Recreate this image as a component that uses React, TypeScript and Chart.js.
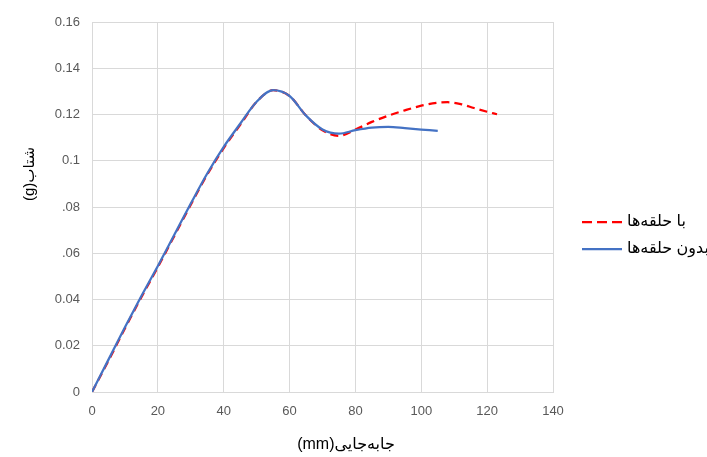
import React, { useEffect, useRef } from "react";
import { Chart, registerables } from "chart.js";

Chart.register(...registerables);

// ---- data ----
const seriesNames = ["با حلقه\u200cها", "بدون حلقه\u200cها"];
const withRingsX = [0, 5, 10, 15, 20, 25, 30, 35, 40, 45, 50, 55, 60, 65, 70, 75, 80, 85, 90, 95, 100, 105, 108, 112, 116, 120, 123];
const withRingsY = [0, 0.0135, 0.0275, 0.041, 0.054, 0.0675, 0.081, 0.094, 0.1055, 0.1155, 0.1255, 0.1305, 0.128, 0.1195, 0.1132, 0.1108, 0.1135, 0.1168, 0.1195, 0.1218, 0.1238, 0.1251, 0.1253, 0.1245, 0.1228, 0.1212, 0.1201];
const withoutRingsX = [0, 5, 10, 15, 20, 25, 30, 35, 40, 45, 50, 55, 60, 65, 70, 75, 80, 85, 90, 95, 100, 105];
const withoutRingsY = [0, 0.014, 0.028, 0.0415, 0.0545, 0.068, 0.0815, 0.0945, 0.106, 0.116, 0.1255, 0.1305, 0.128, 0.1195, 0.1135, 0.1117, 0.1132, 0.1143, 0.1146, 0.1141, 0.1135, 0.1129];
const xTickValues = [0, 20, 40, 60, 80, 100, 120, 140];
const yTickLabels = ["0", "0.02", "0.04", ".06", ".08", "0.1", "0.12", "0.14", "0.16"];
const xTitle = "(mm)جابه\u200cجایی";
const yTitle = "(g)شتاب";

const FONT = "'Liberation Sans', 'DejaVu Sans', sans-serif";

export default function App() {
  const ref = useRef<HTMLCanvasElement | null>(null);

  useEffect(() => {
    const canvas = ref.current;
    if (!canvas) return;

    const titlesAndLegend = {
      id: "titlesAndLegend",
      afterDraw(chart: any) {
        const ctx = chart.ctx as CanvasRenderingContext2D;
        ctx.save();
        (ctx as any).direction = "ltr";
        ctx.fillStyle = "#000000";
        ctx.textAlign = "center";
        ctx.textBaseline = "middle";
        ctx.font = `16px ${FONT}`;
        ctx.fillText(xTitle, 346, 445);
        ctx.save();
        ctx.font = `15px ${FONT}`;
        ctx.translate(30, 174);
        ctx.rotate(-Math.PI / 2);
        ctx.fillText(yTitle, 0, 0);
        ctx.restore();

        const items = [
          { name: seriesNames[0], color: "#ff0000", dash: [10, 5], y: 222 },
          { name: seriesNames[1], color: "#4472c4", dash: [], y: 249 },
        ];
        ctx.font = `16px ${FONT}`;
        ctx.textAlign = "left";
        for (const it of items) {
          ctx.save();
          ctx.strokeStyle = it.color;
          ctx.lineWidth = 2.25;
          ctx.setLineDash(it.dash);
          ctx.beginPath();
          ctx.moveTo(582, it.y);
          ctx.lineTo(622, it.y);
          ctx.stroke();
          ctx.restore();
          ctx.fillStyle = "#000000";
          ctx.fillText(it.name, 627, it.y);
        }
        ctx.restore();
      },
    };

    const chart = new Chart(canvas, {
      type: "line",
      data: {
        datasets: [
          {
            label: seriesNames[0],
            data: withRingsX.map((x, i) => ({ x, y: withRingsY[i] })),
            borderColor: "#ff0000",
            borderWidth: 2.25,
            borderDash: [8, 5],
            pointRadius: 0,
            cubicInterpolationMode: "monotone",
            fill: false,
            order: 2,
          },
          {
            label: seriesNames[1],
            data: withoutRingsX.map((x, i) => ({ x, y: withoutRingsY[i] })),
            borderColor: "#4472c4",
            borderWidth: 2.25,
            pointRadius: 0,
            cubicInterpolationMode: "monotone",
            fill: false,
            order: 1,
          },
        ],
      },
      options: {
        responsive: false,
        animation: false,
        devicePixelRatio: 1,
        layout: { padding: { left: 0, top: 22, right: 154, bottom: 0 } },
        plugins: {
          legend: { display: false },
          tooltip: { enabled: false },
        },
        scales: {
          x: {
            type: "linear",
            min: 0,
            max: 140,
            afterBuildTicks: (s: any) => {
              s.ticks = xTickValues.map((v) => ({ value: v }));
            },
            afterFit: (s: any) => {
              s.height = 65;
            },
            grid: { color: "#d9d9d9", lineWidth: 1, drawTicks: false },
            border: { color: "#d9d9d9" },
            ticks: {
              color: "#595959",
              padding: 12,
              maxRotation: 0,
              font: { family: FONT, size: 13 },
              callback: (v: any) => String(v),
            },
          },
          y: {
            type: "linear",
            min: 0,
            max: 0.16,
            afterBuildTicks: (s: any) => {
              s.ticks = yTickLabels.map((_, i) => ({ value: i * 0.02 }));
            },
            afterFit: (s: any) => {
              s.width = 92;
            },
            grid: { color: "#d9d9d9", lineWidth: 1, drawTicks: false },
            border: { color: "#d9d9d9" },
            ticks: {
              color: "#595959",
              padding: 12,
              font: { family: FONT, size: 13 },
              callback: (v: any) => yTickLabels[Math.round(Number(v) / 0.02)] ?? "",
            },
          },
        },
      },
      plugins: [titlesAndLegend],
    } as any);

    return () => chart.destroy();
  }, []);

  return (
    <div style={{ position: "fixed", left: 0, top: 0, width: 707, height: 457, background: "#ffffff" }}>
      <canvas ref={ref} width={707} height={457} style={{ display: "block" }} />
    </div>
  );
}
